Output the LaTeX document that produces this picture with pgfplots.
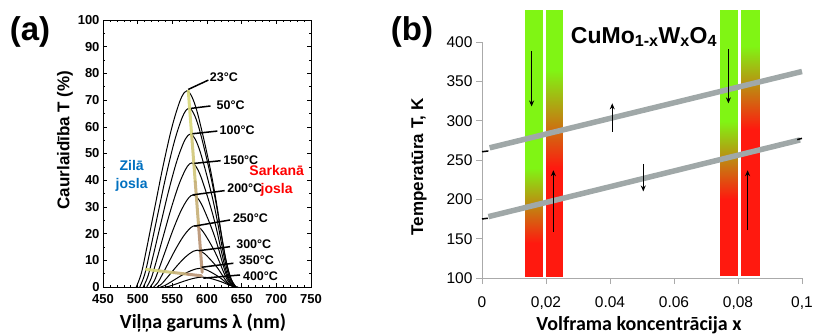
\documentclass[border=0pt]{standalone}
\usepackage{fontspec}
\setmainfont{Liberation Sans}
\newfontfamily\calibri{Carlito}
\usepackage{pgfplots}
\pgfplotsset{compat=1.18}
\usetikzlibrary{arrows.meta}
\definecolor{barGreen}{RGB}{128,245,20}
\definecolor{barRed}{RGB}{255,25,15}
\definecolor{lineGray}{RGB}{160,168,168}
\definecolor{axGray}{RGB}{170,170,170}
\definecolor{ziluBlue}{RGB}{0,112,192}
\begin{document}
\begin{tikzpicture}
\path[use as bounding box] (0,0) rectangle (814bp,-334bp);
% ---------------- panel (a)
\begin{axis}[at={(103bp,-287bp)}, anchor=south west, scale only axis,
  width=208bp, height=267bp,
  xmin=450, xmax=750, ymin=0, ymax=100, clip=false,
  xtick={450,500,550,600,650,700,750}, ytick={0,10,20,30,40,50,60,70,80,90,100},
  minor x tick num=4, minor y tick num=1,
  tick align=inside, major tick length=4bp, minor tick length=2bp,
  axis line style={line width=0.9bp},
  every tick/.style={black, line width=0.6bp},
  ticklabel style={font=\bfseries\fontsize{13bp}{13bp}\selectfont},
  xticklabel style={yshift=-4bp},
  /pgf/number format/assume math mode=true,
  colormap={trend}{rgb255=(218,224,120) rgb255=(205,190,120) rgb255=(175,130,110)},
  point meta min=0, point meta max=1,
]
\addplot[black, line width=1bp, smooth, tension=0.6] coordinates {(498,0) (505.3,5.15) (512.6,13.97) (519.9,23.52) (527.2,33.08) (534.5,42.63) (541.8,51.45) (549.1,59.54) (556.4,66.15) (563.7,71.30) (571,73.5) (578.1,71.30) (585.2,66.15) (592.3,58.8) (599.4,50.72) (606.5,41.90) (613.6,31.61) (620.7,19.85) (627.8,9.56) (634.9,2.94) (642,0)};
\addplot[black, line width=1bp, smooth, tension=0.6] coordinates {(503,0) (510.1,4.69) (517.2,12.73) (524.3,21.44) (531.4,30.15) (538.5,38.86) (545.6,46.9) (552.7,54.27) (559.8,60.3) (566.9,64.99) (574,67) (580.8,64.99) (587.6,60.3) (594.4,53.6) (601.2,46.23) (608,38.19) (614.8,28.81) (621.6,18.09) (628.4,8.71) (635.2,2.68) (642,0)};
\addplot[black, line width=1bp, smooth, tension=0.6] coordinates {(508,0) (514.8,4.01) (521.6,10.89) (528.4,18.34) (535.2,25.79) (542,33.23) (548.8,40.11) (555.6,46.41) (562.4,51.57) (569.2,55.58) (576,57.3) (582.5,55.58) (589,51.57) (595.5,45.84) (602,39.54) (608.5,32.66) (615,24.64) (621.5,15.47) (628,7.45) (634.5,2.29) (641,0)};
\addplot[black, line width=1bp, smooth, tension=0.6] coordinates {(513,0) (519.5,3.26) (526,8.84) (532.5,14.88) (539,20.93) (545.5,26.97) (552,32.55) (558.5,37.67) (565,41.85) (571.5,45.11) (578,46.5) (584.2,45.11) (590.4,41.85) (596.6,37.2) (602.8,32.09) (609,26.51) (615.2,20.0) (621.4,12.56) (627.6,6.05) (633.8,1.86) (640,0)};
\addplot[black, line width=1bp, smooth, tension=0.6] coordinates {(518,0) (524.2,2.42) (530.4,6.56) (536.6,11.04) (542.8,15.53) (549,20.01) (555.2,24.15) (561.4,27.95) (567.6,31.05) (573.8,33.47) (580,34.5) (586,33.47) (592,31.05) (598,27.6) (604,23.81) (610,19.67) (616,14.84) (622,9.32) (628,4.49) (634,1.38) (640,0)};
\addplot[black, line width=1bp, smooth, tension=0.6] coordinates {(523,0) (529,1.61) (535,4.37) (541,7.36) (547,10.35) (553,13.34) (559,16.1) (565,18.63) (571,20.7) (577,22.31) (583,23) (588.7,22.31) (594.4,20.7) (600.1,18.4) (605.8,15.87) (611.5,13.11) (617.2,9.89) (622.9,6.21) (628.6,2.99) (634.3,0.92) (640,0)};
\addplot[black, line width=1bp, smooth, tension=0.6] coordinates {(528,0) (533.8,0.97) (539.6,2.62) (545.4,4.42) (551.2,6.21) (557,8.0) (562.8,9.66) (568.6,11.18) (574.4,12.42) (580.2,13.39) (586,13.8) (591.4,13.39) (596.8,12.42) (602.2,11.04) (607.6,9.52) (613,7.87) (618.4,5.93) (623.8,3.73) (629.2,1.79) (634.6,0.55) (640,0)};
\addplot[black, line width=1bp, smooth, tension=0.6] coordinates {(533,0) (538.7,0.49) (544.4,1.33) (550.1,2.24) (555.8,3.15) (561.5,4.06) (567.2,4.9) (572.9,5.67) (578.6,6.3) (584.3,6.79) (590,7) (595.2,6.79) (600.4,6.3) (605.6,5.6) (610.8,4.83) (616,3.99) (621.2,3.01) (626.4,1.89) (631.6,0.91) (636.8,0.28) (642,0)};
\addplot[black, line width=1bp, smooth, tension=0.6] coordinates {(540,0) (545.3,0.26) (550.6,0.7) (555.9,1.18) (561.2,1.67) (566.5,2.15) (571.8,2.59) (577.1,3.0) (582.4,3.33) (587.7,3.59) (593,3.7) (598.2,3.59) (603.4,3.33) (608.6,2.96) (613.8,2.55) (619,2.11) (624.2,1.59) (629.4,1.0) (634.6,0.48) (639.8,0.15) (645,0)};
% trend guides
\addplot[mesh, point meta=explicit, line width=3bp, opacity=0.9, line cap=round] coordinates {(573,73.5) [0] (578,56.5) [0.25] (583,39.5) [0.5] (588,22.5) [0.75] (593,5.5) [1]};
\addplot[mesh, point meta=explicit, line width=3bp, opacity=0.9, line cap=round] coordinates {(512,6.6) [0] (532,6.0) [0.25] (552,5.4) [0.5] (572,4.8) [0.75] (592,4.2) [1]};
% leader lines
\addplot[black, line width=1.5bp] coordinates {(573,74) (602,77.5)};
\addplot[black, line width=1.5bp] coordinates {(577,66.9) (605,67.8)};
\addplot[black, line width=1.5bp] coordinates {(579,57.4) (615,58.4)};
\addplot[black, line width=1.5bp] coordinates {(581.7,46.3) (619.7,47.3)};
\addplot[black, line width=1.5bp] coordinates {(579.3,34.5) (625.5,36.1)};
\addplot[black, line width=1.5bp] coordinates {(581.7,22.8) (633.2,25.1)};
\addplot[black, line width=1.5bp] coordinates {(588,13.6) (633.2,15.1)};
\addplot[black, line width=1.5bp] coordinates {(592.3,7.4) (638,8.9)};
\addplot[black, line width=1.5bp] coordinates {(594.7,3.3) (647.6,4.5)};
\begin{scope}[every node/.style={anchor=west, inner sep=0.5bp, font=\bfseries\fontsize{12.5bp}{13bp}\selectfont}]
\node at (axis cs:603.3,78.4) {23°C};
\node at (axis cs:613,68.2) {50°C};
\node at (axis cs:617.3,58.8) {100°C};
\node at (axis cs:622.6,47.6) {150°C};
\node at (axis cs:628.3,37.0) {200°C};
\node at (axis cs:636.5,25.7) {250°C};
\node at (axis cs:641.3,16) {300°C};
\node at (axis cs:645.2,9.9) {350°C};
\node at (axis cs:651,4.1) {400°C};
\end{scope}
\node[align=center, text=ziluBlue, font=\bfseries\fontsize{14bp}{18bp}\selectfont] at (axis cs:491.3,41.6) {Zilā\\josla};
\node[align=center, text=red, font=\bfseries\fontsize{14bp}{18bp}\selectfont] at (axis cs:700.5,39.8) {Sarkanā\\josla};
\end{axis}
\node[font=\bfseries\fontsize{33bp}{33bp}\selectfont] at (30bp,-32bp) {(a)};
\node[rotate=90, font=\bfseries\fontsize{17bp}{17bp}\selectfont] at (65bp,-140bp) {Caurlaidība T (\%)};
\node[anchor=base, font=\calibri\bfseries\fontsize{20bp}{20bp}\selectfont] at (203bp,-328bp) {Viļņa garums λ (nm)};
% ---------------- panel (b)
\begin{axis}[at={(482bp,-278bp)}, anchor=south west, scale only axis,
  width=320bp, height=236bp,
  xmin=0, xmax=0.1, ymin=100, ymax=400, clip=false,
  axis x line=bottom, axis y line=left,
  axis line style={-, draw=axGray, line width=0.8bp},
  tick align=outside, major tick length=6bp,
  every tick/.style={axGray, line width=0.8bp},
  xtick={0,0.02,0.04,0.06,0.08,0.1}, xticklabels={0,{0,02},0.04,0.06,{0,08},{0,1}},
  ytick={100,150,200,250,300,350,400},
  ticklabel style={font=\fontsize{15.5bp}{16bp}\selectfont},
  /pgf/number format/assume math mode=true,
  xticklabel style={yshift=-9bp},
  colormap={rg}{rgb255=(255,25,15) rgb255=(128,245,20)},
  point meta min=0, point meta max=1,
]
% bars: red bottom, gradient, green top (one shaded surface each)
\addplot[surf, shader=interp, mesh/cols=2, point meta=explicit] coordinates {
 (0.0133,101.5)[0] (0.0188,101.5)[0]
 (0.0133,145)[0] (0.0188,145)[0]
 (0.0133,240)[1] (0.0188,240)[1]
 (0.0133,440.5)[1] (0.0188,440.5)[1]};
\addplot[surf, shader=interp, mesh/cols=2, point meta=explicit] coordinates {
 (0.0199,101.5)[0] (0.0252,101.5)[0]
 (0.0199,240)[0] (0.0252,240)[0]
 (0.0199,365)[1] (0.0252,365)[1]
 (0.0199,440.5)[1] (0.0252,440.5)[1]};
\addplot[surf, shader=interp, mesh/cols=2, point meta=explicit] coordinates {
 (0.0745,103)[0] (0.0798,103)[0]
 (0.0745,200)[0] (0.0798,200)[0]
 (0.0745,300)[1] (0.0798,300)[1]
 (0.0745,440.5)[1] (0.0798,440.5)[1]};
\addplot[surf, shader=interp, mesh/cols=2, point meta=explicit] coordinates {
 (0.0809,103)[0] (0.0866,103)[0]
 (0.0809,290)[0] (0.0866,290)[0]
 (0.0809,395)[1] (0.0866,395)[1]
 (0.0809,440.5)[1] (0.0866,440.5)[1]};
% gray transition lines
\addplot[lineGray, line width=5.5bp] coordinates {(0.0024,265.5) (0.1,362.5)};
\addplot[lineGray, line width=5.5bp] coordinates {(0.002,178) (0.0994,275.5)};
\addplot[black, line width=1.5bp] coordinates {(0,260.5) (0.002,261.5)};
\addplot[black, line width=1.5bp] coordinates {(0,175) (0.0018,176)};
\addplot[black, line width=1.5bp] coordinates {(0.0985,276) (0.1,277.5)};
% arrows
\addplot[black, line width=1.2bp, -{Stealth[length=6bp,width=5bp]}] coordinates {(0.0155,388) (0.0155,318)};
\addplot[black, line width=1.2bp, -{Stealth[length=6bp,width=5bp]}] coordinates {(0.0223,159) (0.0223,237)};
\addplot[black, line width=1.2bp, -{Stealth[length=6bp,width=5bp]}] coordinates {(0.0770,391) (0.0770,322)};
\addplot[black, line width=1.2bp, -{Stealth[length=6bp,width=5bp]}] coordinates {(0.0830,161) (0.0830,237)};
\addplot[black, line width=1.2bp, -{Stealth[length=6bp,width=5bp]}] coordinates {(0.0407,286) (0.0407,322)};
\addplot[black, line width=1.2bp, -{Stealth[length=6bp,width=5bp]}] coordinates {(0.0504,245) (0.0504,210)};
\end{axis}
\node[font=\bfseries\fontsize{33bp}{33bp}\selectfont] at (412bp,-32bp) {(b)};
\node[font=\bfseries\fontsize{23bp}{23bp}\selectfont] at (644bp,-37bp) {CuMo\textsubscript{1-x}W\textsubscript{x}O\textsubscript{4}};
\node[rotate=90, font=\bfseries\fontsize{17bp}{17bp}\selectfont] at (419bp,-167bp) {Temperatūra T, K};
\node[anchor=base, font=\calibri\bfseries\fontsize{20bp}{20bp}\selectfont] at (639bp,-330bp) {Volframa koncentrācija x};
\end{tikzpicture}
\end{document}
